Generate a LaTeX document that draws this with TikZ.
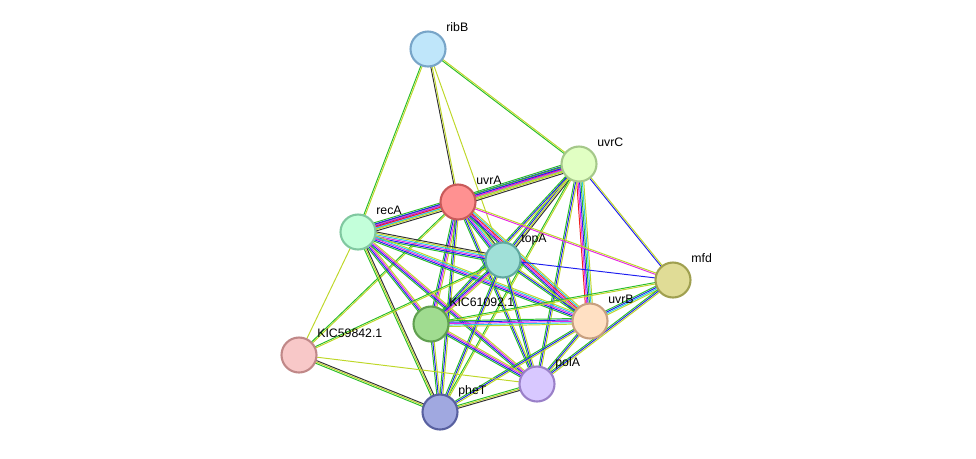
\documentclass[tikz,border=0pt]{standalone}
\usepackage{fontspec}
\setmainfont{Liberation Sans}
\usetikzlibrary{calc,backgrounds}
\definecolor{sgreen}{RGB}{40,190,40}
\definecolor{sblue}{RGB}{30,30,240}
\definecolor{sred}{RGB}{240,30,30}
\definecolor{smag}{RGB}{230,40,230}
\definecolor{scyan}{RGB}{40,200,230}
\definecolor{syel}{RGB}{190,215,40}
\definecolor{sblack}{RGB}{50,50,50}
\tikzset{
  prot/.style={circle,draw,line width=1.2pt,minimum size=0.7cm,inner sep=0pt},
  plabel/.style={anchor=base west,font=\fontsize{7}{8}\selectfont,inner sep=0pt},
  link/.style={line width=0.55pt}
}
% parallel coloured lines between two nodes
\newcommand\strlink[3]{%
  \foreach \c [count=\i] in {#3} {\xdef\nlink{\i}}%
  \foreach \c [count=\i] in {#3} {%
    \pgfmathsetmacro\off{(\i-(\nlink+1)/2)*0.8}%
    \draw[link,\c] ($(#1)!\off pt!90:(#2)$) -- ($(#2)!\off pt!-90:(#1)$);
  }}
\begin{document}
\begin{tikzpicture}[x=0.02cm,y=-0.02cm]
  \useasboundingbox (0,0) rectangle (976,458);
  % proteins
  \foreach \n/\x/\y/\f/\d/\t in {
      ribB/428/49/{191,230,250}/{120,165,200}/ribB,
      uvrC/579/164/{225,255,195}/{165,200,138}/uvrC,
      uvrA/458/202/{255,145,145}/{200,90,90}/uvrA,
      recA/358/232/{195,255,218}/{128,200,160}/recA,
      topA/503/260/{160,224,216}/{96,168,160}/topA,
      mfd/673/280/{224,220,150}/{160,160,80}/mfd,
      kicA/431/324/{160,220,144}/{96,160,80}/KIC61092.1,
      uvrB/590/321/{255,224,195}/{200,160,128}/uvrB,
      kicB/299/355/{248,200,200}/{192,136,136}/KIC59842.1,
      polA/537/384/{216,200,255}/{154,128,200}/polA,
      pheT/440/412/{160,168,224}/{88,96,160}/pheT} {
    \definecolor{fc}{RGB}{\f}
    \definecolor{dc}{RGB}{\d}
    \node[prot,fill=fc,draw=dc] (\n) at (\x,\y) {};
    \node[plabel] (\n-l) at (\x+18,\y-18) {\t};
  }
  \begin{scope}[on background layer]
    \strlink{ribB}{uvrA}{sblack,syel}
    \strlink{ribB}{recA}{sgreen,syel}
    \strlink{ribB}{uvrC}{sgreen,syel}
    \strlink{ribB}{topA}{syel}
    \strlink{uvrC}{uvrA}{sgreen,sblue,smag,sred,scyan,syel,sblack}
    \strlink{uvrC}{recA}{sgreen,sblue,smag,syel}
    \strlink{uvrC}{topA}{sgreen,sblue,syel,sblack}
    \strlink{uvrC}{mfd}{sblue,syel}
    \strlink{uvrC}{uvrB}{sred,smag,sblue,sgreen,scyan,syel}
    \strlink{uvrC}{kicA}{sgreen,sblue,syel}
    \strlink{uvrC}{polA}{sgreen,sblue,syel}
    \strlink{uvrC}{pheT}{sgreen,syel}
    \strlink{uvrA}{recA}{sgreen,sblue,smag,sred,scyan,syel,sblack}
    \strlink{uvrA}{topA}{sgreen,sblue,smag,scyan,syel,sblack}
    \strlink{uvrA}{mfd}{smag,syel}
    \strlink{uvrA}{uvrB}{sgreen,sblue,smag,sred,scyan,syel}
    \strlink{uvrA}{kicA}{sgreen,sblue,smag,syel}
    \strlink{uvrA}{polA}{sgreen,sblue,syel}
    \strlink{uvrA}{pheT}{sgreen,sblue,syel}
    \strlink{uvrA}{kicB}{sgreen,syel}
    \strlink{recA}{topA}{sgreen,sblue,smag,scyan,syel,sblack}
    \strlink{recA}{uvrB}{sgreen,sblue,smag,scyan,syel}
    \strlink{recA}{kicA}{sgreen,sblue,smag,syel}
    \strlink{recA}{polA}{sgreen,sblue,smag,syel}
    \strlink{recA}{pheT}{sgreen,syel,sblack}
    \strlink{recA}{kicB}{syel}
    \strlink{topA}{mfd}{sblue}
    \strlink{topA}{uvrB}{sgreen,sblue,syel}
    \strlink{topA}{kicA}{sgreen,sblue,smag,syel}
    \strlink{topA}{polA}{sgreen,sblue,syel}
    \strlink{topA}{pheT}{sgreen,sblue,syel}
    \strlink{topA}{kicB}{sgreen,syel}
    \strlink{mfd}{uvrB}{sgreen,sblue,scyan,syel}
    \strlink{mfd}{polA}{sgreen,sblue,syel}
    \strlink{mfd}{kicA}{sgreen,syel}
    \strlink{uvrB}{kicA}{sgreen,sblue,smag,scyan,syel}
    \strlink{uvrB}{polA}{sgreen,sblue,syel}
    \strlink{uvrB}{pheT}{sgreen,sblue,syel}
    \strlink{kicA}{polA}{sgreen,sblue,smag,syel}
    \strlink{kicA}{pheT}{sgreen,sblue,syel}
    \strlink{kicB}{pheT}{sgreen,syel,sblack}
    \strlink{kicB}{polA}{syel}
    \strlink{polA}{pheT}{sgreen,syel,sblack}
  \end{scope}
\end{tikzpicture}
\end{document}
